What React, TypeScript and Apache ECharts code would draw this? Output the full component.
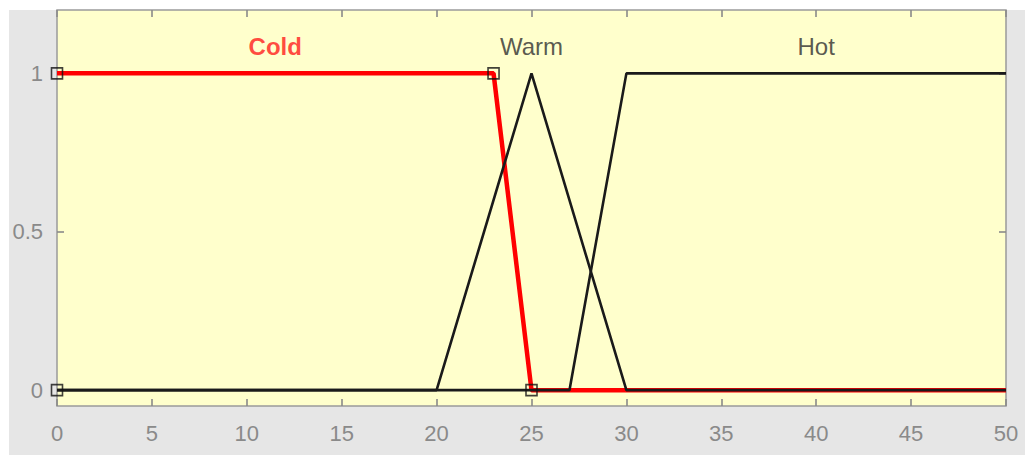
import React, { useEffect, useRef } from "react";
import * as echarts from "echarts";

const coldX = [0, 23, 25, 50];
const coldY = [1, 1, 0, 0];
const warmX = [0, 20, 25, 30, 50];
const warmY = [0, 0, 1, 0, 0];
const hotX = [0, 27, 30, 50];
const hotY = [0, 0, 1, 1];
const vertexX = [0, 0, 23, 25];
const vertexY = [0, 1, 1, 0];
const mfNames = ["Cold", "Warm", "Hot"];
const mfLabelX = [11.5, 25, 40];
const mfLabelY = [1.085, 1.085, 1.085];
const yTicks = [0, 0.5, 1];

const pair = (xs: number[], ys: number[]) => xs.map((x, i) => [x, ys[i]]);

export default function App() {
  const ref = useRef<HTMLDivElement>(null);
  useEffect(() => {
    const chart = echarts.init(ref.current!, null, { renderer: "svg" });
    const font = "'Liberation Sans', Arial, sans-serif";
    const tickColor = "#8a8a8a";
    const tick = { show: true, inside: true, length: 7, lineStyle: { color: tickColor, width: 1.6 } };
    chart.setOption({
      animation: false,
      backgroundColor: "#ffffff",
      graphic: [
        { type: "rect", left: 9, top: 10, shape: { width: 1016, height: 445 }, style: { fill: "#e6e6e6" }, z: -10, silent: true },
        { type: "rect", left: 0, top: 0, shape: { width: 9, height: 455 }, style: { fill: "#ffffff" }, z: 100, silent: true },
      ],
      grid: {
        left: 57,
        top: 10,
        right: 19,
        bottom: 49,
        show: true,
        backgroundColor: "#ffffcc",
        borderColor: "#9a9a9a",
        borderWidth: 1.5,
      },
      xAxis: [
        {
          type: "value",
          min: 0,
          max: 50,
          interval: 5,
          position: "bottom",
          axisLine: { show: false, onZero: false },
          splitLine: { show: false },
          axisTick: tick,
          axisLabel: { color: tickColor, fontSize: 22, fontFamily: font, margin: 16 },
        },
        {
          type: "value",
          min: 0,
          max: 50,
          interval: 5,
          position: "top",
          axisLine: { show: false, onZero: false },
          splitLine: { show: false },
          axisTick: tick,
          axisLabel: { show: false },
        },
      ],
      yAxis: [
        {
          type: "value",
          min: -0.05,
          max: 1.2,
          position: "left",
          axisLine: { show: false, onZero: false },
          splitLine: { show: false },
          axisTick: { ...tick, customValues: yTicks },
          axisLabel: { color: tickColor, fontSize: 22, fontFamily: font, margin: 14, customValues: yTicks },
        },
        {
          type: "value",
          min: -0.05,
          max: 1.2,
          position: "right",
          axisLine: { show: false, onZero: false },
          splitLine: { show: false },
          axisTick: { ...tick, customValues: yTicks },
          axisLabel: { show: false, customValues: yTicks },
        },
      ],
      series: [
        {
          type: "line",
          name: "Cold",
          data: pair(coldX, coldY),
          showSymbol: false,
          lineStyle: { color: "#ff0000", width: 4.5 },
          z: 2,
        },
        {
          type: "line",
          name: "Warm",
          data: pair(warmX, warmY),
          showSymbol: false,
          lineStyle: { color: "#1a1a1a", width: 2.6 },
          z: 3,
        },
        {
          type: "line",
          name: "Hot",
          data: pair(hotX, hotY),
          showSymbol: false,
          lineStyle: { color: "#1a1a1a", width: 2.6 },
          z: 3,
        },
        {
          type: "scatter",
          data: pair(vertexX, vertexY),
          symbol: "rect",
          symbolSize: 11,
          itemStyle: { color: "rgba(0,0,0,0)", borderColor: "#111111", borderWidth: 1.6 },
          z: 4,
        },
        {
          type: "scatter",
          symbolSize: 0,
          z: 5,
          data: mfNames.map((n, i) => ({
            value: [mfLabelX[i], mfLabelY[i]],
            name: n,
            label: {
              show: true,
              position: "inside",
              formatter: n,
              fontSize: 24,
              fontFamily: font,
              color: i === 0 ? "#ff1a1a" : "#2e2e2e",
              fontWeight: i === 0 ? "bold" : "normal",
            },
          })),
        },
      ],
    });
    return () => chart.dispose();
  }, []);
  return <div ref={ref} style={{ position: "fixed", left: 0, top: 0, width: 1025, height: 455 }} />;
}
